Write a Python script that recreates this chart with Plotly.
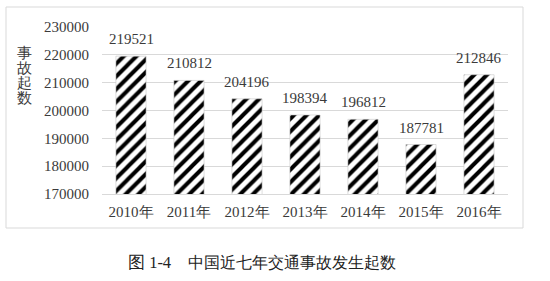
import plotly.graph_objects as go

years = ["2010年", "2011年", "2012年", "2013年", "2014年", "2015年", "2016年"]
accidents = [219521, 210812, 204196, 198394, 196812, 187781, 212846]
y_ticks = [170000, 180000, 190000, 200000, 210000, 220000, 230000]
y_title_chars = ["事", "故", "起", "数"]

FONT = "Times New Roman, Liberation Serif, DejaVu Serif, serif"
TXT = "#3a3a3a"

fig = go.Figure()
fig.add_trace(go.Bar(
    x=years, y=accidents,
    width=0.52,
    marker=dict(
        color="white",
        line=dict(color="#c8c8c8", width=0.6),
        pattern=dict(shape="/", fgcolor="#000000", bgcolor="#ffffff", fgopacity=1,
                     fillmode="overlay", size=9, solidity=0.45),
    ),
    hoverinfo="skip",
))

annotations = [
    dict(x=yr, y=v, xref="x", yref="y", text=str(v), showarrow=False,
         yanchor="bottom", yshift=7, font=dict(family=FONT, size=15, color=TXT))
    for yr, v in zip(years, accidents)
]
for i, ch in enumerate(y_title_chars):
    annotations.append(dict(
        text=ch, xref="paper", yref="paper",
        x=(24 - 102) / 406, xanchor="center",
        y=(194 - (53 + 15 * i)) / 167, yanchor="middle",
        showarrow=False, font=dict(family=FONT, size=15, color=TXT)))
annotations += [
    dict(text="图 1-4", xref="paper", yref="paper",
         x=(126 - 102) / 406, xanchor="left", y=(194 - 262) / 167, yanchor="middle",
         showarrow=False, font=dict(family=FONT, size=16.5, color="#222")),
    dict(text="中国近七年交通事故发生起数", xref="paper", yref="paper",
         x=(186 - 102) / 406, xanchor="left", y=(194 - 262) / 167, yanchor="middle",
         showarrow=False, font=dict(family=FONT, size=16.3, color="#222")),
]

fig.update_layout(
    width=550, height=281,
    margin=dict(l=102, r=42, t=27, b=87),
    paper_bgcolor="white", plot_bgcolor="white",
    showlegend=False,
    font=dict(family=FONT, size=15, color=TXT),
    xaxis=dict(showgrid=False, showline=True, linecolor="#d9d9d9", linewidth=1,
               ticks="", ticklabelstandoff=4,
               tickfont=dict(family=FONT, size=15, color=TXT)),
    yaxis=dict(range=[170000, 230000], tickvals=y_ticks,
               ticktext=[str(v) for v in y_ticks],
               showgrid=True, gridcolor="#d9d9d9", gridwidth=1,
               zeroline=False, showline=False, ticks="",
               ticklabelstandoff=12,
               tickfont=dict(family=FONT, size=15, color=TXT)),
    shapes=[dict(type="rect", xref="paper", yref="paper",
                 x0=(6 - 102) / 406, x1=(523 - 102) / 406,
                 y0=(194 - 228) / 167, y1=(194 - 7) / 167,
                 line=dict(color="#d9d9d9", width=1), fillcolor="rgba(0,0,0,0)", layer="below")],
    annotations=annotations,
)

fig.write_html("out.html")
